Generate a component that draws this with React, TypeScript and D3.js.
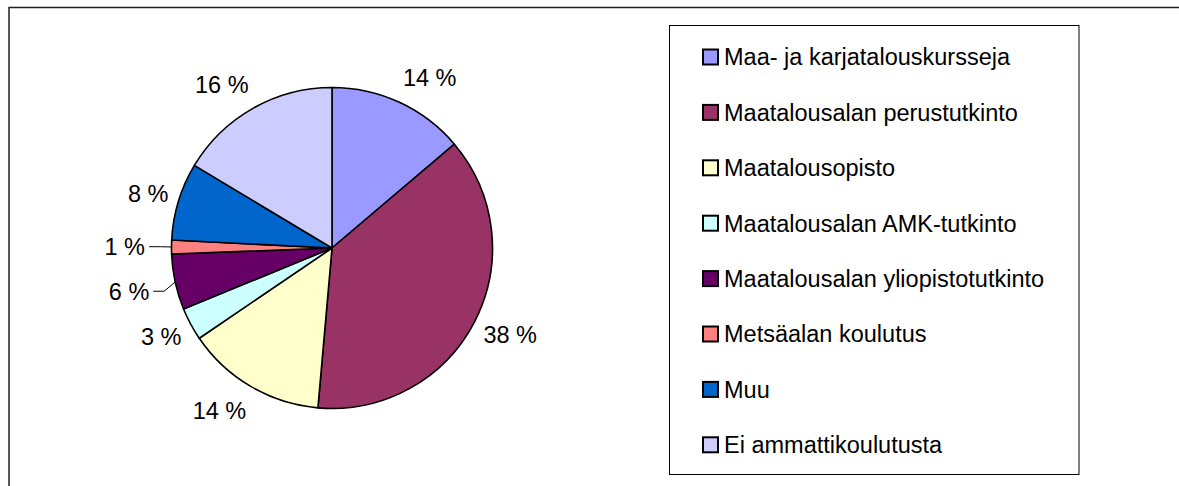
import React from "react";
import * as d3 from "d3";

const categories = [
  "Maa- ja karjatalouskursseja",
  "Maatalousalan perustutkinto",
  "Maatalousopisto",
  "Maatalousalan AMK-tutkinto",
  "Maatalousalan yliopistotutkinto",
  "Metsäalan koulutus",
  "Muu",
  "Ei ammattikoulutusta",
];
const values = [13.8, 37.6, 14.1, 3.3, 5.6, 1.4, 7.8, 16.4];
const colors = ["#9999FF", "#993366", "#FFFFCC", "#CCFFFF", "#660066", "#FF8080", "#0066CC", "#CCCCFF"];
const leaderIdx = [4, 5];

const W = 1179;
const H = 486;
const FONT = "Arial, 'Liberation Sans', sans-serif";
const FS = 23.5;

export default function App() {
  const cx = 332;
  const cy = 248;
  const r = 160.5;
  const total = d3.sum(values);
  const pie = d3.pie<number>().sort(null).value((d) => d).startAngle(0).endAngle(2 * Math.PI);
  const arcs = pie(values);
  const arcGen = d3.arc<d3.PieArcDatum<number>>().innerRadius(0).outerRadius(r);

  const charW: Record<string, number> = { " ": 0.278, "%": 0.889 };
  const textW = (s: string) => s.split("").reduce((a, c) => a + (charW[c] ?? 0.556), 0) * FS;
  const capH = 0.716 * FS;

  const labels = arcs.map((a, i) => {
    const txt = `${Math.round((a.value / total) * 100)} %`;
    const mid = (a.startAngle + a.endAngle) / 2;
    const ux = Math.sin(mid);
    const uy = -Math.cos(mid);
    const w = textW(txt);
    const lead = leaderIdx.includes(i);
    const R = r + 11.5 + (lead ? 16 : 0);
    const x = cx + R * ux + (w / 2) * Math.sign(ux) * 0.95;
    const y = cy + R * uy + 16 * uy;
    const edge = [cx + r * ux, cy + r * uy];
    return { txt, x, y, w, lead, edge };
  });

  const rowStart = 57;
  const rowStep = 55.4;

  return (
    <svg
      width={W}
      height={H}
      style={{ position: "absolute", left: 0, top: 0, background: "#fff" }}
      fontFamily={FONT}
    >
      <rect x={0} y={0} width={W} height={H} fill="#fff" />
      <rect x={9} y={7.5} width={W + 20} height={H + 20} fill="none" stroke="#222" strokeWidth={1.5} />
      <g transform={`translate(${cx},${cy})`}>
        {arcs.map((a, i) => (
          <path key={i} d={arcGen(a) || ""} fill={colors[i]} stroke="#000" strokeWidth={1.6} strokeLinejoin="round" />
        ))}
      </g>
      {labels.map((l, i) => (
        <g key={i}>
          {l.lead && (
            <polyline
              points={`${l.x + l.w / 2 + 4},${l.y} ${l.edge[0] - 11},${l.y} ${l.edge[0]},${l.edge[1]}`}
              fill="none"
              stroke="#000"
              strokeWidth={1}
            />
          )}
          <text x={l.x} y={l.y + capH / 2} textAnchor="middle" fontSize={FS} fill="#000">
            {l.txt}
          </text>
        </g>
      ))}
      <rect x={669.5} y={25.5} width={409.5} height={449} fill="#fff" stroke="#000" strokeWidth={1} />
      {categories.map((c, i) => {
        const yc = rowStart + i * rowStep;
        return (
          <g key={c}>
            <rect x={703} y={yc - 7.5} width={15} height={15} fill={colors[i]} stroke="#000" strokeWidth={2} />
            <text x={724} y={yc + capH / 2} fontSize={FS} fill="#000">
              {c}
            </text>
          </g>
        );
      })}
    </svg>
  );
}
